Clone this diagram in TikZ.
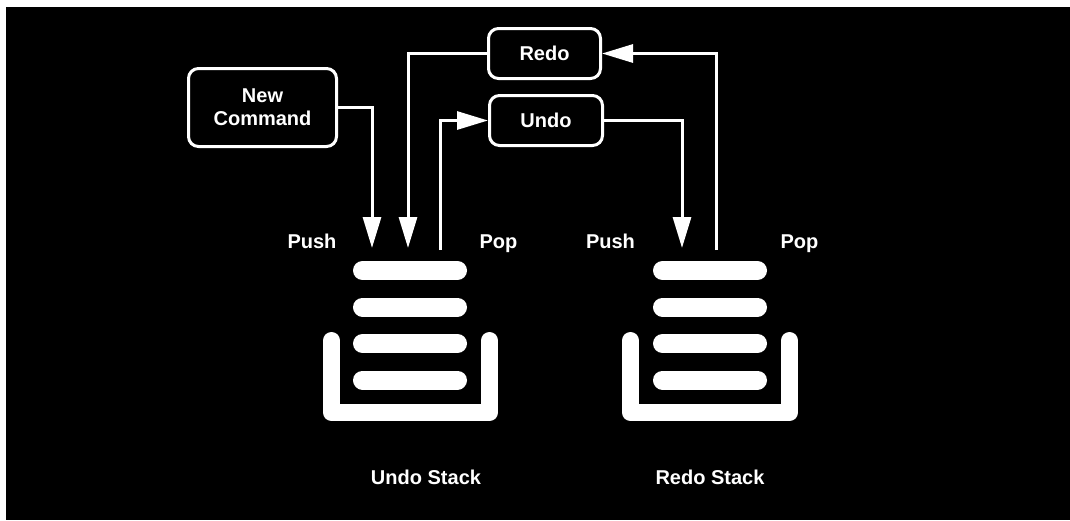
\documentclass[tikz,border=0pt]{standalone}
\usepackage{fontspec}
\setmainfont{Liberation Sans}
\usetikzlibrary{arrows.meta}

\tikzset{
  cmdbox/.style={draw=white, line width=3pt, rounded corners=10pt, inner sep=0pt,
    align=center, text=white},
  flow/.style={draw=white, line width=3pt, -{Triangle[length=31pt,width=18pt]}},
  lbl/.style={text=white, anchor=base, inner sep=0pt},
  bar/.style={white, line width=19pt, line cap=round},
  tray/.style={white, line width=17pt, line cap=round, line join=round},
}

\begin{document}
\begin{tikzpicture}[x=1pt, y=-1pt,
    every node/.style={font=\fontsize{20}{23}\selectfont\bfseries}]
    % Fondo.
    \useasboundingbox (0,0) rectangle (1070,520);
    \fill[white] (0,0) rectangle (1070,520);
    \fill[black] (6,7) rectangle (1070,520);

    % Comandos.
    \node[cmdbox, minimum width=148pt, minimum height=78pt] (cmd) at (262.5,107.5) {New\\Command};
    \node[cmdbox, minimum width=112pt, minimum height=50pt] (redo) at (544.5,53.5) {Redo};
    \node[cmdbox, minimum width=113pt, minimum height=50pt] (undo) at (546,120.5) {Undo};

    % Pila de deshacer.
    \foreach \y in {270.5,307,343.5,380}
        \draw[bar] (362.5,\y) -- (457.5,\y);
    \draw[tray] (331.5,340.5) -- (331.5,412.5) -- (489.5,412.5) -- (489.5,340.5);

    % Pila de rehacer.
    \foreach \y in {270.5,307,343.5,380}
        \draw[bar] (662.5,\y) -- (757.5,\y);
    \draw[tray] (630.5,340.5) -- (630.5,412.5) -- (789.5,412.5) -- (789.5,340.5);

    % Extremos libres de las flechas.
    \coordinate (inU) at (372,248);
    \coordinate (backU) at (408,248);
    \coordinate (outU) at (440,250);
    \coordinate (inR) at (682,248);
    \coordinate (outR) at (716,250);

    \draw[flow] (cmd.east) -| (inU);
    \draw[flow] (redo.west) -| (backU);
    \draw[flow] (outU) |- (undo.west);
    \draw[flow] (undo.east) -| (inR);
    \draw[flow] (outR) |- (redo.east);

    % Etiquetas.
    \node[lbl] (pushU) at (312,248) {Push};
    \node[lbl] (popU) at (498.5,248) {Pop};
    \node[lbl] (pushR) at (610.5,248) {Push};
    \node[lbl] (popR) at (799.5,248) {Pop};
    \node[lbl] (nameU) at (426,484) {Undo Stack};
    \node[lbl] (nameR) at (710,484) {Redo Stack};
\end{tikzpicture}
\end{document}
